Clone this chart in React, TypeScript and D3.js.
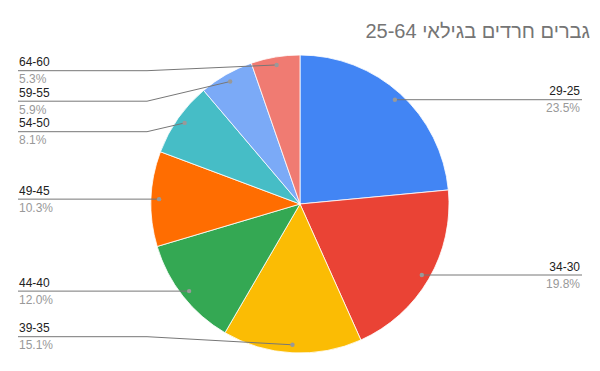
import React from "react";
import * as d3 from "d3";

const title = "גברים חרדים בגילאי 25-64";
const categories = ["29-25", "34-30", "39-35", "44-40", "49-45", "54-50", "59-55", "64-60"];
const values = [23.5, 19.8, 15.1, 12.0, 10.3, 8.1, 5.9, 5.3];
const colors = ["#4285f4", "#ea4335", "#fbbc04", "#34a853", "#ff6d01", "#46bdc6", "#7baaf7", "#f07b72"];

const W = 600;
const H = 371;
const cx = 300;
const cy = 204;
const R = 149;
const dotR = 141;
const FONT = "'Liberation Sans', Arial, sans-serif";

export default function App() {
  const pie = d3.pie<number>().sort(null).value((d) => d);
  const arcs = pie(values);
  const arcGen = d3.arc<d3.PieArcDatum<number>>().innerRadius(0).outerRadius(R);

  type Lab = { i: number; side: "L" | "R"; dx: number; dy: number; y: number };
  const labs: Lab[] = arcs.map((a, i) => {
    const mid = (a.startAngle + a.endAngle) / 2;
    const dx = cx + Math.sin(mid) * dotR;
    const dy = cy - Math.cos(mid) * dotR;
    return { i, side: Math.sin(mid) >= 0 ? "R" : "L", dx, dy, y: dy };
  });

  const layout = (side: "L" | "R") => {
    const group = labs.filter((l) => l.side === side).sort((a, b) => a.dy - b.dy);
    const gap = 30.5;
    const top = 70.7;
    const bottom = 336.7;
    let prev = -Infinity;
    group.forEach((l) => {
      let y = Math.max(l.dy, top, prev + gap);
      l.y = y;
      prev = y;
    });
    // push up from bottom
    let next = Infinity;
    for (let k = group.length - 1; k >= 0; k--) {
      const l = group[k];
      l.y = Math.min(l.y, bottom, next - gap);
      next = l.y;
    }
  };
  layout("L");
  layout("R");

  return (
    <svg width={W} height={H} style={{ position: "absolute", left: 0, top: 0, background: "#fff" }}>
      <rect x={0} y={0} width={W} height={H} fill="#fff" />
      <text x={590} y={38} textAnchor="end" fontFamily={FONT} fontSize={20} fill="#757575">
        {title}
      </text>
      <g transform={`translate(${cx},${cy})`}>
        {arcs.map((a, i) => (
          <path key={i} d={arcGen(a) || ""} fill={colors[i]} stroke="#fff" strokeWidth={0.8} />
        ))}
      </g>
      {labs.map((l) => {
        const { i } = l;
        let path: string;
        let tx: number;
        let anchor: "start" | "end";
        if (l.side === "L") {
          const bend = 147;
          path = Math.abs(l.y - l.dy) < 1
            ? `M18,${l.y}L${l.dx},${l.dy}`
            : `M18,${l.y}L${bend},${l.y}L${l.dx},${l.dy}`;
          tx = 19;
          anchor = "start";
        } else {
          path = `M${l.dx},${l.dy}L582,${l.y}`;
          tx = 580;
          anchor = "end";
        }
        return (
          <g key={i}>
            <path d={path} fill="none" stroke="#777" strokeWidth={1} />
            <circle cx={l.dx} cy={l.dy} r={2.2} fill="#999" />
            <text x={tx} y={l.y - 4.5} textAnchor={anchor} fontFamily={FONT} fontSize={12} fill="#222">
              {categories[i]}
            </text>
            <text x={tx} y={l.y + 12.5} textAnchor={anchor} fontFamily={FONT} fontSize={12} fill="#999">
              {values[i].toFixed(1) + "%"}
            </text>
          </g>
        );
      })}
    </svg>
  );
}
